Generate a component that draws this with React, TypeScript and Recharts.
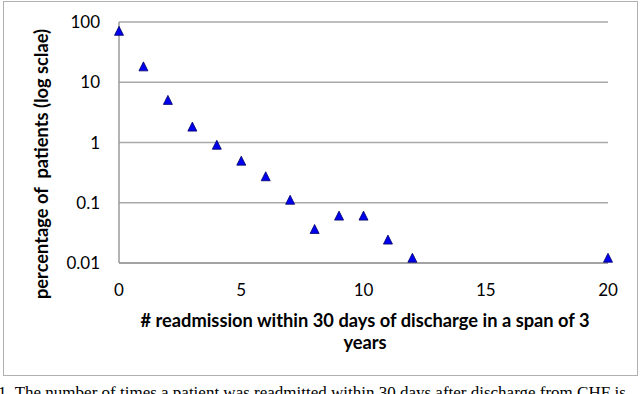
import React from 'react';
import {
  ScatterChart,
  Scatter,
  XAxis,
  YAxis,
  CartesianGrid,
} from 'recharts';

// readmission counts and share of patients (%)
const readmissions = [0, 1, 2, 3, 4, 5, 6, 7, 8, 9, 10, 11, 12, 20];
const percentPatients = [70, 18, 5, 1.8, 0.9, 0.49, 0.27, 0.11, 0.036, 0.06, 0.06, 0.024, 0.012, 0.012];

const xTicks = [0, 5, 10, 15, 20];
const yTicks = [0.01, 0.1, 1, 10, 100];

const points = readmissions.map((x, i) => ({ x, y: percentPatients[i] }));

const FONT = 'Lato, "Open Sans", sans-serif';
const GRID = '#a9a9a9';

const Triangle = (props: any) => {
  const { cx, cy } = props;
  if (cx == null || cy == null) return null;
  return (
    <polygon
      points={`${cx},${cy - 5} ${cx + 4.5},${cy + 4} ${cx - 4.5},${cy + 4}`}
      fill="#0000ee"
      stroke="#000066"
      strokeWidth={0.8}
    />
  );
};

// x title sits under the axis, two lines, centred on the plot
const XTitle = () => (
  <text
    x={365}
    y={327}
    textAnchor="middle"
    fontFamily={FONT}
    fontSize={18.3}
    fontWeight="bold"
    fill="#000"
  >
    <tspan x={365}># readmission within 30 days of discharge in a span of 3</tspan>
    <tspan x={365} dy={22}>years</tspan>
  </text>
);

const YTitle = () => (
  <text
    x={48}
    y={164}
    transform="rotate(-90 48 164)"
    textAnchor="middle"
    fontFamily={FONT}
    fontSize={18.3}
    fontWeight="bold"
    fill="#000"
    style={{ whiteSpace: 'pre' }}
  >
    percentage of  patients (log sclae)
  </text>
);

const App: React.FC = () => {
  return (
    <div
      style={{
        position: 'fixed',
        left: 0,
        top: 0,
        width: 640,
        height: 394,
        overflow: 'hidden',
        background: '#fff',
      }}
    >
      {/* outer chart frame */}
      <div
        style={{
          position: 'absolute',
          left: 3,
          top: 1,
          width: 633,
          height: 373,
          border: '1.5px solid #b0b0b0',
        }}
      />
      <div style={{ position: 'absolute', left: 0, top: 0 }}>
        <ScatterChart
          width={640}
          height={394}
          margin={{ top: 22, right: 32, bottom: 71, left: 59 }}
        >
          <CartesianGrid
            vertical={false}
            horizontal
            stroke={GRID}
            strokeWidth={1.5}
          />
          <XAxis
            type="number"
            dataKey="x"
            domain={[0, 20]}
            ticks={xTicks}
            interval={0}
            tickLine={false}
            tickMargin={15}
            axisLine={{ stroke: '#9a9a9a', strokeWidth: 1.5 }}
            tick={{ fill: '#000', fontSize: 17, fontFamily: FONT }}
            height={60}
            label={<XTitle />}
          />
          <YAxis
            type="number"
            dataKey="y"
            scale="log"
            domain={[0.01, 100]}
            ticks={yTicks}
            interval={0}
            allowDataOverflow
            tickLine={false}
            tickMargin={13}
            width={60}
            axisLine={{ stroke: '#9a9a9a', strokeWidth: 1.5 }}
            tick={{ fill: '#000', fontSize: 17, fontFamily: FONT }}
            tickFormatter={(v: number) => String(v)}
            label={<YTitle />}
          />
          <Scatter
            data={points}
            shape={<Triangle />}
            isAnimationActive={false}
          />
        </ScatterChart>
      </div>
      <div
        style={{
          position: 'absolute',
          left: -2,
          top: 383,
          whiteSpace: 'nowrap',
          fontFamily: '"Liberation Serif", "Times New Roman", serif',
          fontSize: 17,
          color: '#000',
        }}
      >
        1. The number of times a patient was readmitted within 30 days after discharge from CHF is
      </div>
    </div>
  );
};

export default App;
